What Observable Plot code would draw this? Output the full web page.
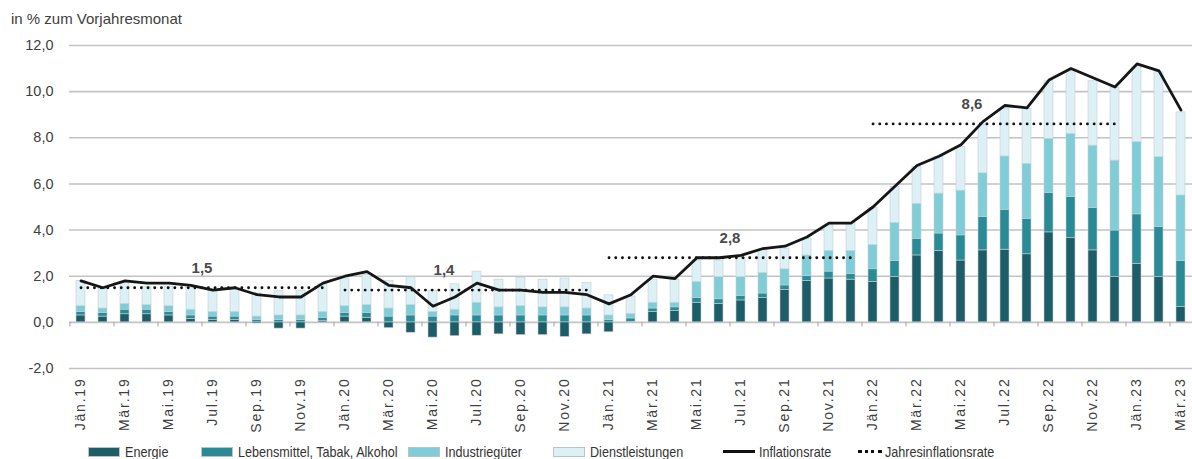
<!DOCTYPE html>
<html><head><meta charset="utf-8">
<script src="https://cdn.jsdelivr.net/npm/d3@7"></script>
<script src="https://cdn.jsdelivr.net/npm/@observablehq/plot@0.6"></script>
<style>
body{margin:0;background:#fff;font-family:"Liberation Sans",Arial,sans-serif;}
#wrap{position:relative;width:1192px;height:459px;overflow:hidden;background:#fff}
#title{position:absolute;left:11px;top:10px;font-size:15px;color:#404040}
#chart{position:absolute;left:0;top:0}
#legend{position:absolute;top:443px;left:0;width:1192px;height:17px;font-family:"Liberation Sans",Arial,sans-serif;font-size:15px;color:#333}
.li{position:absolute;top:0;display:flex;align-items:center;height:17px;white-space:nowrap}
.tx{display:inline-block;transform-origin:left center;transform:scaleX(0.84)}
.sw{width:32px;height:10px;margin-right:5px;border:1px solid #b8c4c8;box-sizing:border-box}
.ln{width:32px;height:0;border-top:3px solid #111;margin-right:4px}
.dt{width:24px;height:0;border-top:3px dotted #111;margin-right:3px}
</style></head><body>
<div id="wrap"><div id="chart"></div><div id="title">in % zum Vorjahresmonat</div><div id="legend"></div></div>
<script>
const months = ["Jän.19","Feb.19","Mär.19","Apr.19","Mai.19","Jun.19","Jul.19","Aug.19","Sep.19","Okt.19","Nov.19","Dez.19",
"Jän.20","Feb.20","Mär.20","Apr.20","Mai.20","Jun.20","Jul.20","Aug.20","Sep.20","Okt.20","Nov.20","Dez.20",
"Jän.21","Feb.21","Mär.21","Apr.21","Mai.21","Jun.21","Jul.21","Aug.21","Sep.21","Okt.21","Nov.21","Dez.21",
"Jän.22","Feb.22","Mär.22","Apr.22","Mai.22","Jun.22","Jul.22","Aug.22","Sep.22","Okt.22","Nov.22","Dez.22",
"Jän.23","Feb.23","Mär.23"];

const inflationsrate = [1.8,1.5,1.8,1.7,1.7,1.6,1.4,1.5,1.2,1.1,1.1,1.7,
2.0,2.2,1.6,1.5,0.7,1.1,1.7,1.4,1.4,1.3,1.3,1.2,
0.8,1.2,2.0,1.9,2.8,2.8,2.9,3.2,3.3,3.7,4.3,4.3,
5.0,5.9,6.8,7.2,7.7,8.7,9.4,9.3,10.5,11.0,10.6,10.2,
11.2,10.9,9.2];

const energie = [0.3,0.25,0.35,0.35,0.3,0.15,0.1,0.1,-0.05,-0.27,-0.27,0.05,
0.25,0.2,-0.25,-0.45,-0.66,-0.6,-0.58,-0.52,-0.55,-0.55,-0.63,-0.52,
-0.43,0.02,0.45,0.5,0.85,0.8,0.95,1.05,1.4,1.8,1.9,1.85,
1.75,1.96,2.9,3.1,2.68,3.12,3.15,2.95,3.9,3.65,3.12,1.96,
2.54,1.96,0.66];

const lebensmittel = [0.15,0.15,0.2,0.2,0.15,0.15,0.15,0.15,0.1,0.1,0.1,0.15,
0.15,0.2,0.25,0.3,0.25,0.3,0.3,0.3,0.3,0.3,0.3,0.3,
0.1,0.15,0.15,0.15,0.2,0.2,0.2,0.2,0.2,0.2,0.3,0.25,
0.55,0.7,0.72,0.75,1.09,1.44,1.73,1.54,1.7,1.78,1.84,2.02,
2.14,2.17,2.0];

const industriegueter = [0.25,0.2,0.25,0.2,0.25,0.25,0.2,0.2,0.15,0.2,0.2,0.25,
0.3,0.35,0.35,0.45,0.2,0.25,0.55,0.35,0.4,0.35,0.35,0.3,
0.2,0.2,0.25,0.2,0.7,0.96,0.81,0.89,0.7,0.9,0.9,1.0,
1.05,1.65,1.52,1.73,1.94,1.9,2.31,2.38,2.35,2.74,2.7,3.03,
3.13,3.03,2.84];

const dienstleistungen = [1.1,0.9,0.9,0.8,0.85,0.95,0.95,1.0,1.0,1.05,1.08,1.2,
1.2,1.3,1.2,1.2,0.9,1.1,1.35,1.2,1.22,1.2,1.25,1.1,
0.87,0.75,1.0,1.0,0.93,0.72,0.84,0.98,0.9,0.72,1.1,1.2,
1.6,1.55,1.6,1.6,1.9,2.1,2.06,2.38,2.5,2.71,2.79,3.15,
3.24,3.68,3.6];

const seriesNames = ["Energie","Lebensmittel, Tabak, Alkohol","Industriegüter","Dienstleistungen"];
const seriesColors = ["#1d5d68","#2a8b97","#80ccd7","#dcf0f5"];

const yearStart = ["Jän.19","Jän.20","Jän.21","Jän.22"];
const yearEnd = ["Dez.19","Dez.20","Dez.21","Dez.22"];
const yearLabelMonth = ["Jun.19","Mai.20","Jun.21","Mai.22"];
const jahresinflation = [1.5,1.4,2.8,8.6];

const yTicks = [-2,0,2,4,6,8,10,12];

// build tables
const seriesValues = [energie, lebensmittel, industriegueter, dienstleistungen];
const bars = [];
seriesNames.forEach((s, k) => months.forEach((m, i) => bars.push({month: m, series: s, value: seriesValues[k][i]})));
const lineData = months.map((m, i) => ({month: m, value: inflationsrate[i]}));
const yearData = [];
jahresinflation.forEach((v, k) => {
  yearData.push({month: yearStart[k], value: v, year: k});
  yearData.push({month: yearEnd[k], value: v, year: k});
});
const yearLabels = jahresinflation.map((v, k) => ({month: yearLabelMonth[k], value: v, label: v.toFixed(1).replace(".", ",")}));
const fmt = d => d.toFixed(1).replace(".", ",");

const chart = Plot.plot({
  width: 1192,
  height: 443,
  marginTop: 45,
  marginBottom: 75,
  marginLeft: 69,
  marginRight: 0,
  style: {fontFamily: "'Liberation Sans', Arial, sans-serif", fontSize: "14px", color: "#404040", background: "transparent"},
  x: {type: "band", domain: months, paddingInner: 0.58, paddingOuter: 0.29},
  y: {domain: [-2, 12]},
  color: {domain: seriesNames, range: seriesColors},
  marks: [
    Plot.ruleY(yTicks, {stroke: "#c3c3c3", strokeWidth: 1.6}),
    Plot.ruleX(months.filter((d, i) => i % 2 === 0), {x: d => d, y1: 0, y2: -0.2, dx: -11, stroke: "#b0b0b0", strokeWidth: 1.2}),
    Plot.barY(bars, {x: "month", y: "value", fill: "series", stroke: "#c2cfd3", strokeWidth: 0.6}),
    Plot.line(yearData, {x: "month", y: "value", z: "year", stroke: "#111", strokeWidth: 2.8, strokeDasharray: "0.1 6.6", strokeLinecap: "round"}),
    Plot.line(lineData, {x: "month", y: "value", stroke: "#161616", strokeWidth: 2.8, strokeLinejoin: "round"}),
    Plot.text(yearLabels, {x: "month", y: "value", text: "label", dx: 11, dy: -20, fontSize: 15, fontWeight: "bold", fill: "#4a4a4a"}),
    Plot.axisY({ticks: yTicks, tickSize: 0, tickPadding: 16, tickFormat: fmt, fontSize: 14.5, label: null}),
    Plot.axisX({ticks: months.filter((d, i) => i % 2 === 0), tickSize: 0, tickRotate: -90, tickPadding: 9, fontSize: 14, label: null})
  ]
});
chart.querySelectorAll("g[aria-label='x-axis tick label'] text").forEach(t => t.setAttribute("letter-spacing", "1.8"));
document.getElementById("chart").appendChild(chart);

// legend
const legend = document.getElementById("legend");
const legendItems = [
  {left: 88, kind: "sw", color: seriesColors[0], label: seriesNames[0]},
  {left: 201, kind: "sw", color: seriesColors[1], label: seriesNames[1]},
  {left: 408, kind: "sw", color: seriesColors[2], label: seriesNames[2]},
  {left: 553, kind: "sw", color: seriesColors[3], label: seriesNames[3]},
  {left: 723, kind: "ln", label: "Inflationsrate"},
  {left: 858, kind: "dt", label: "Jahresinflationsrate"}
];
legendItems.forEach(it => {
  const d = document.createElement("div");
  d.className = "li";
  d.style.left = it.left + "px";
  const s = document.createElement("span");
  s.className = it.kind;
  if (it.color) s.style.background = it.color;
  d.appendChild(s);
  const t = document.createElement("span");
  t.className = "tx";
  t.textContent = it.label;
  d.appendChild(t);
  legend.appendChild(d);
});
</script>
</body></html>
